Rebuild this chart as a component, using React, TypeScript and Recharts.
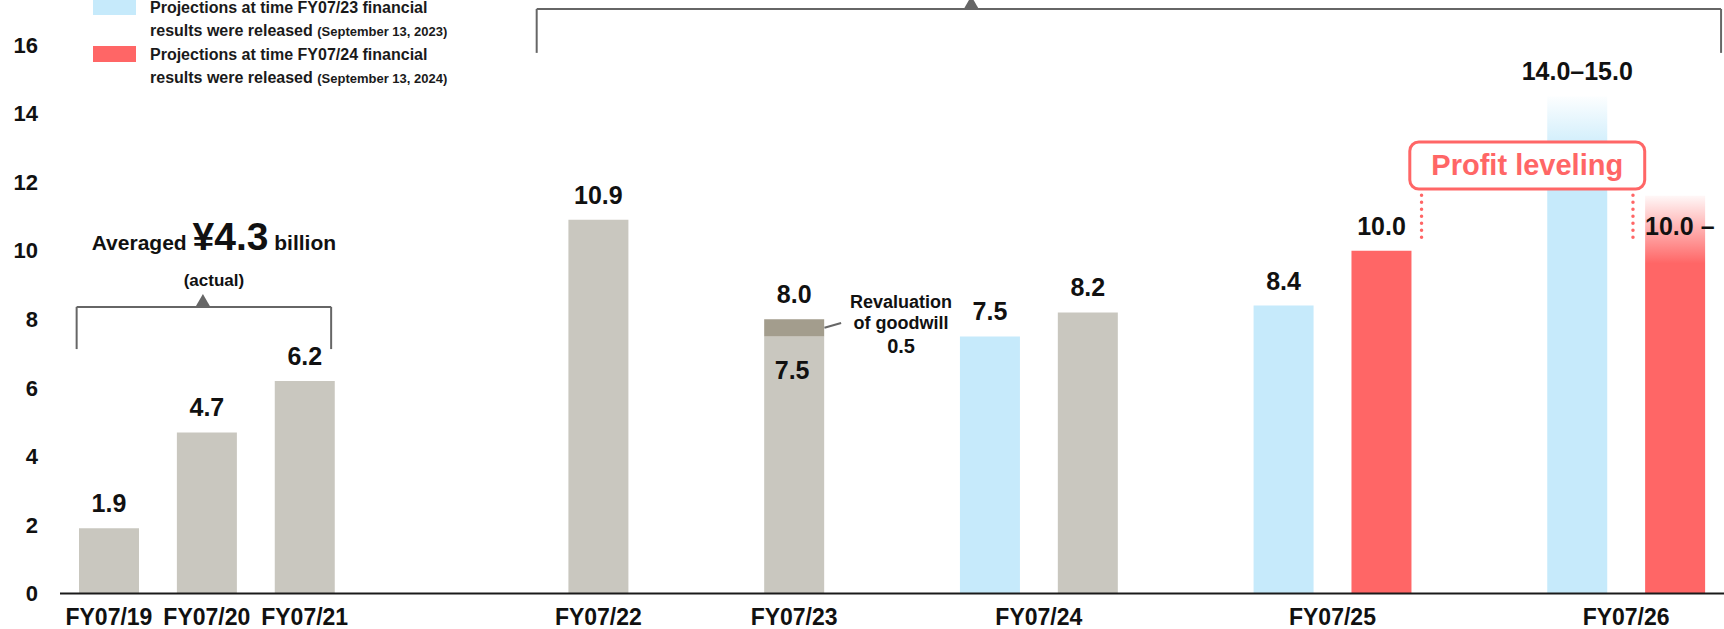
import React from "react";
import {
  Bar,
  BarChart,
  Cell,
  LabelList,
  Legend,
  ReferenceArea,
  ReferenceDot,
  ReferenceLine,
  XAxis,
  YAxis
} from "recharts";

const FONT = '"Liberation Sans", Arial, Helvetica, sans-serif';
const INK = "#111111";
const BRACKET = "#666666";
const RED = "#FF6666";

// fiscal years and the slot their label sits on
const yearNames = ["FY07/19", "FY07/20", "FY07/21", "FY07/22", "FY07/23", "FY07/24", "FY07/25", "FY07/26"];
const yearSlots = [0, 1, 2, 5, 7, 9.5, 12.5, 15.5];

// one entry per bar (billion yen)
const barSlots = [0, 1, 2, 5, 7, 9, 10, 12, 13, 15, 16];
const barValues = [1.9, 4.7, 6.2, 10.9, 7.5, 7.5, 8.2, 8.4, 10.0, 14.5, 11.6];
const goodwillValues = [null, null, null, null, 0.5, null, null, null, null, null, null];
const barKinds = ["actual", "actual", "actual", "actual", "actual", "fy23", "actual", "fy23", "fy24", "fy23range", "fy24range"];
const barLabels = ["1.9", "4.7", "6.2", "10.9", "", "7.5", "8.2", "8.4", "10.0", "14.0\u201315.0", ""];
const goodwillLabels = ["", "", "", "", "8.0", "", "", "", "", "", ""];

const yTicks = [0, 2, 4, 6, 8, 10, 12, 14, 16];

const legendColors = ["#C6EAFB", RED];
const legendLines1 = ["Projections at time FY07/23 financial", "Projections at time FY07/24 financial"];
const legendLines2 = ["results were released", "results were released"];
const legendDates = ["(September 13, 2023)", "(September 13, 2024)"];

const kindFill: Record<string, string> = {
  actual: "#C9C7BF",
  fy23: "#C6EAFB",
  fy24: RED,
  fy23range: "url(#fadeBlue)",
  fy24range: "url(#fadeRed)"
};

const data = barSlots.map((slot, i) => ({
  slot,
  value: barValues[i],
  goodwill: goodwillValues[i],
  kind: barKinds[i],
  label: barLabels[i],
  goodwillLabel: goodwillLabels[i]
}));

const labelStyle = { fill: INK, fontSize: 25, fontWeight: "bold", fontFamily: FONT };

function YearTick(props: any) {
  const { x, y, payload } = props;
  const i = yearSlots.indexOf(payload.value);
  return (
    <text x={x} y={y + 29} textAnchor="middle" fontFamily={FONT} fontSize={23} fontWeight="bold" fill={INK}>
      {yearNames[i]}
    </text>
  );
}

function LegendBox() {
  return (
    <div style={{ fontFamily: FONT, fontWeight: "bold", color: "#1a1a1a" }}>
      {legendColors.map((c, i) => (
        <div key={i} style={{ display: "flex", alignItems: "flex-start" }}>
          <div style={{ width: 43, height: 16, background: c, marginTop: 3.5, marginRight: 14, flex: "none" }} />
          <div style={{ fontSize: 16, lineHeight: "23px", whiteSpace: "nowrap" }}>
            {legendLines1[i]}
            <br />
            {legendLines2[i]} <span style={{ fontSize: 13 }}>{legendDates[i]}</span>
          </div>
        </div>
      ))}
    </div>
  );
}

function bracket(key: string, x1: number, x2: number, y: number, drop: number) {
  const line = { stroke: BRACKET, strokeWidth: 2, ifOverflow: "visible" as const };
  return [
    <ReferenceLine key={key + "l"} segment={[{ x: x1, y: drop }, { x: x1, y }]} {...line} />,
    <ReferenceLine key={key + "t"} segment={[{ x: x1, y }, { x: x2, y }]} {...line} />,
    <ReferenceLine key={key + "r"} segment={[{ x: x2, y }, { x: x2, y: drop }]} {...line} />
  ];
}

const triangle = (p: any) => (
  <path d={`M${p.cx - 7.5},${p.cy} L${p.cx},${p.cy - 13} L${p.cx + 7.5},${p.cy} Z`} fill={BRACKET} />
);

// drawn as the area's label so it sits above the bars
const ProfitBox = (p: any) => {
  const { x, y, width, height } = p.viewBox;
  return (
    <g>
      <rect x={x} y={y} width={width} height={height} rx={9} fill="#fff" stroke={RED} strokeWidth={3} />
      <text x={x + width / 2} y={y + height / 2 + 10} textAnchor="middle" fontFamily={FONT} fontWeight="bold" fontSize={29} fill={RED}>
        Profit leveling
      </text>
    </g>
  );
};

export default function App() {
  return (
    <div style={{ position: "absolute", left: 0, top: 0, background: "#fff" }}>
      <BarChart width={1724} height={629} data={data} barSize={60} margin={{ top: 45, right: 0, bottom: 0, left: 0 }}>
        <defs>
          <linearGradient id="fadeBlue" x1="0" y1="0" x2="0" y2="1">
            <stop offset="0" stopColor="#C6EAFB" stopOpacity={0.05} />
            <stop offset="0.12" stopColor="#C6EAFB" stopOpacity={1} />
            <stop offset="1" stopColor="#C6EAFB" stopOpacity={1} />
          </linearGradient>
          <linearGradient id="fadeRed" x1="0" y1="0" x2="0" y2="1">
            <stop offset="0" stopColor={RED} stopOpacity={0.05} />
            <stop offset="0.17" stopColor={RED} stopOpacity={1} />
            <stop offset="1" stopColor={RED} stopOpacity={1} />
          </linearGradient>
        </defs>
        <XAxis
          dataKey="slot"
          type="number"
          domain={[-0.5, 16.5]}
          ticks={yearSlots}
          interval={0}
          tickLine={false}
          tickSize={0}
          axisLine={{ stroke: "#1a1a1a", strokeWidth: 2 }}
          height={35.5}
          tick={<YearTick />}
        />
        <YAxis
          domain={[0, 16]}
          ticks={yTicks}
          interval={0}
          axisLine={false}
          tickLine={false}
          tickSize={0}
          tickMargin={22}
          width={60}
          tick={{ fill: INK, fontSize: 22, fontWeight: "bold", fontFamily: FONT }}
        />
        <Legend
          layout="vertical"
          align="center"
          verticalAlign="middle"
          content={() => <LegendBox />}
          wrapperStyle={{ left: 93, top: -4.5, width: "auto", height: "auto" }}
        />
        <Bar dataKey="value" stackId="s" isAnimationActive={false}>
          {data.map((d, i) => (
            <Cell key={i} fill={kindFill[d.kind]} />
          ))}
          <LabelList dataKey="label" position="top" offset={16} {...labelStyle} />
        </Bar>
        <Bar dataKey="goodwill" stackId="s" fill="#A39D8D" isAnimationActive={false}>
          <LabelList dataKey="goodwillLabel" position="top" offset={16} {...labelStyle} />
        </Bar>

        {/* averaged bracket over FY07/19-21 */}
        {bracket("avg", -0.33, 2.27, 8.36, 7.13)}
        <ReferenceDot
          x={0.96}
          y={8.36}
          ifOverflow="visible"
          shape={(p: any) => (
            <g>
              {triangle(p)}
              <text x={p.cx + 11} y={p.cy - 21} textAnchor="middle" fontFamily={FONT} fontWeight="bold" fontSize={17} fill={INK}>
                (actual)
              </text>
              <text x={p.cx + 11} y={p.cy - 57} textAnchor="middle" fontFamily={FONT} fontWeight="bold" fontSize={21} fill={INK}>
                Averaged <tspan fontSize={39}>¥4.3</tspan> billion
              </text>
            </g>
          )}
        />

        {/* bracket over FY07/22-26 */}
        {bracket("top", 4.37, 16.47, 17.05, 15.77)}
        <ReferenceDot x={8.81} y={17.05} ifOverflow="visible" shape={triangle} />

        {/* revaluation of goodwill call-out */}
        <ReferenceLine segment={[{ x: 7.31, y: 7.75 }, { x: 7.48, y: 7.89 }]} stroke={BRACKET} strokeWidth={2} />
        <ReferenceDot
          x={7.48}
          y={7.89}
          shape={(p: any) => (
            <g fontFamily={FONT} fontWeight="bold" fill={INK} textAnchor="middle">
              <text x={p.cx + 60} y={p.cy - 15} fontSize={18}>Revaluation</text>
              <text x={p.cx + 60} y={p.cy + 6} fontSize={18}>of goodwill</text>
              <text x={p.cx + 60} y={p.cy + 30} fontSize={20}>0.5</text>
            </g>
          )}
        />
        <ReferenceDot
          x={7}
          y={7.5}
          shape={(p: any) => (
            <text x={p.cx - 2} y={p.cy + 43} textAnchor="middle" {...labelStyle}>
              7.5
            </text>
          )}
        />
        <ReferenceDot
          x={16}
          y={10}
          shape={(p: any) => (
            <text x={p.cx - 30} y={p.cy - 16} textAnchor="start" {...labelStyle}>
              10.0 –
            </text>
          )}
        />

        {/* profit leveling */}
        <ReferenceLine segment={[{ x: 13.41, y: 11.62 }, { x: 13.41, y: 10.37 }]} stroke={RED} strokeWidth={3.5} strokeDasharray="0 7" strokeLinecap="round" />
        <ReferenceLine segment={[{ x: 15.57, y: 11.62 }, { x: 15.57, y: 10.3 }]} stroke={RED} strokeWidth={3.5} strokeDasharray="0 7" strokeLinecap="round" />
        <ReferenceArea
          x1={13.29}
          x2={15.69}
          y1={11.8}
          y2={13.17}
          fill="none"
          fillOpacity={0}
          zIndex={1000}
          label={<ProfitBox />}
        />
      </BarChart>
    </div>
  );
}
